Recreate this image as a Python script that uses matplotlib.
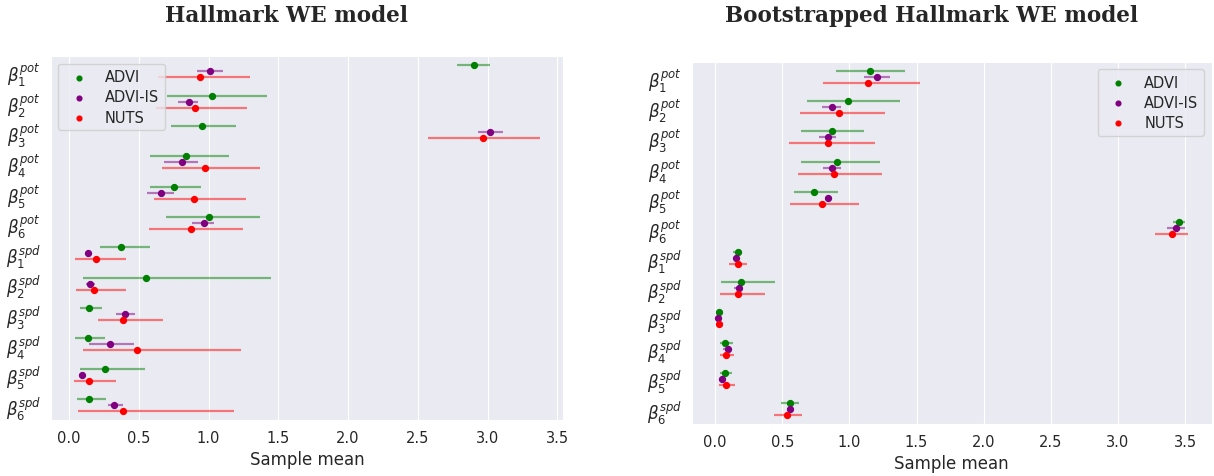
import numpy as np
import matplotlib
matplotlib.use("Agg")
import matplotlib.pyplot as plt
import seaborn as sns

sns.set_style("darkgrid")
plt.rcParams['font.family'] = ['DejaVu Sans']
plt.rcParams['mathtext.fontset'] = 'dejavusans'

params = [r'$\beta_{%d}^{pot}$' % i for i in range(1, 7)] + \
         [r'$\beta_{%d}^{spd}$' % i for i in range(1, 7)]
methods = ['ADVI', 'ADVI-IS', 'NUTS']
colors = ['green', 'purple', 'red']

# Hallmark WE model: mean, lower, upper per parameter
we_advi_mean = [2.904, 1.025, 0.956, 0.838, 0.751, 1.003, 0.373, 0.551, 0.145, 0.134, 0.258, 0.140]
we_advi_lo = [2.778, 0.701, 0.734, 0.584, 0.584, 0.696, 0.219, 0.104, 0.077, 0.044, 0.077, 0.058]
we_advi_hi = [3.019, 1.419, 1.197, 1.148, 0.948, 1.367, 0.581, 1.447, 0.236, 0.258, 0.548, 0.263]

we_is_mean = [1.011, 0.858, 3.016, 0.811, 0.658, 0.964, 0.134, 0.153, 0.400, 0.293, 0.093, 0.326]
we_is_lo = [0.918, 0.784, 2.934, 0.682, 0.556, 0.885, 0.130, 0.123, 0.337, 0.142, 0.090, 0.277]
we_is_hi = [1.104, 0.926, 3.107, 0.926, 0.753, 1.041, 0.138, 0.186, 0.474, 0.468, 0.096, 0.384]

we_nuts_mean = [0.937, 0.904, 2.970, 0.978, 0.899, 0.871, 0.192, 0.178, 0.386, 0.485, 0.145, 0.386]
we_nuts_lo = [0.641, 0.622, 2.570, 0.668, 0.608, 0.570, 0.044, 0.049, 0.211, 0.099, 0.038, 0.066]
we_nuts_hi = [1.299, 1.279, 3.375, 1.367, 1.271, 1.247, 0.411, 0.411, 0.674, 1.233, 0.337, 1.186]

# Bootstrapped Hallmark WE model
bs_advi_mean = [1.150, 0.992, 0.867, 0.908, 0.739, 3.456, 0.167, 0.194, 0.028, 0.075, 0.075, 0.561]
bs_advi_lo = [0.897, 0.683, 0.642, 0.642, 0.586, 3.408, 0.131, 0.044, 0.024, 0.033, 0.033, 0.489]
bs_advi_hi = [1.411, 1.375, 1.111, 1.225, 0.917, 3.500, 0.203, 0.442, 0.032, 0.133, 0.125, 0.625]

bs_is_mean = [1.203, 0.867, 0.839, 0.872, 0.844, 3.436, 0.158, 0.175, 0.019, 0.092, 0.047, 0.556]
bs_is_lo = [1.111, 0.794, 0.775, 0.803, 0.817, 3.369, 0.154, 0.142, 0.016, 0.058, 0.044, 0.550]
bs_is_hi = [1.303, 0.939, 0.903, 0.936, 0.872, 3.500, 0.162, 0.200, 0.022, 0.117, 0.050, 0.562]

bs_nuts_mean = [1.142, 0.922, 0.839, 0.886, 0.797, 3.406, 0.167, 0.167, 0.028, 0.083, 0.083, 0.533]
bs_nuts_lo = [0.806, 0.631, 0.553, 0.614, 0.561, 3.278, 0.100, 0.039, 0.003, 0.033, 0.025, 0.436]
bs_nuts_hi = [1.528, 1.264, 1.189, 1.239, 1.072, 3.522, 0.239, 0.369, 0.061, 0.142, 0.150, 0.647]

we = [(we_advi_mean, we_advi_lo, we_advi_hi),
      (we_is_mean, we_is_lo, we_is_hi),
      (we_nuts_mean, we_nuts_lo, we_nuts_hi)]
bs = [(bs_advi_mean, bs_advi_lo, bs_advi_hi),
      (bs_is_mean, bs_is_lo, bs_is_hi),
      (bs_nuts_mean, bs_nuts_lo, bs_nuts_hi)]

offsets = [-0.2, 0.0, 0.2]


def forest(ax, data, legend_loc):
    y = np.arange(len(params))
    for (mean, lo, hi), off, c, name in zip(data, offsets, colors, methods):
        ax.hlines(y + off, lo, hi, color=c, alpha=0.5, lw=1.6)
        ax.scatter(mean, y + off, color=c, s=18, zorder=3, label=name)
    ax.set_yticks(y)
    ax.set_yticklabels(params, fontsize=12)
    ax.set_ylim(len(params) - 0.5, -0.5)
    ax.yaxis.grid(False)
    ax.tick_params(axis='x', labelsize=10.5)
    ax.tick_params(axis='y', pad=4)
    ax.set_xlabel('Sample mean', fontsize=12)
    ax.legend(loc=legend_loc, fontsize=10.5, markerscale=0.8, labelspacing=0.35)


fig = plt.figure(figsize=(12.14, 4.77), dpi=100)
ax1 = fig.add_axes([0.042, 0.117, 0.422, 0.763])
ax2 = fig.add_axes([0.570, 0.109, 0.428, 0.759])

forest(ax1, we, 'upper left')
forest(ax2, bs, 'upper right')

fig.text(0.236, 0.966, 'Hallmark WE model', ha='center', va='center',
         fontsize=15.5, family='DejaVu Serif', fontweight='bold')
fig.text(0.767, 0.966, 'Bootstrapped Hallmark WE model', ha='center',
         va='center', fontsize=15.5, family='DejaVu Serif', fontweight='bold')

fig.savefig('out.png', dpi=100)
